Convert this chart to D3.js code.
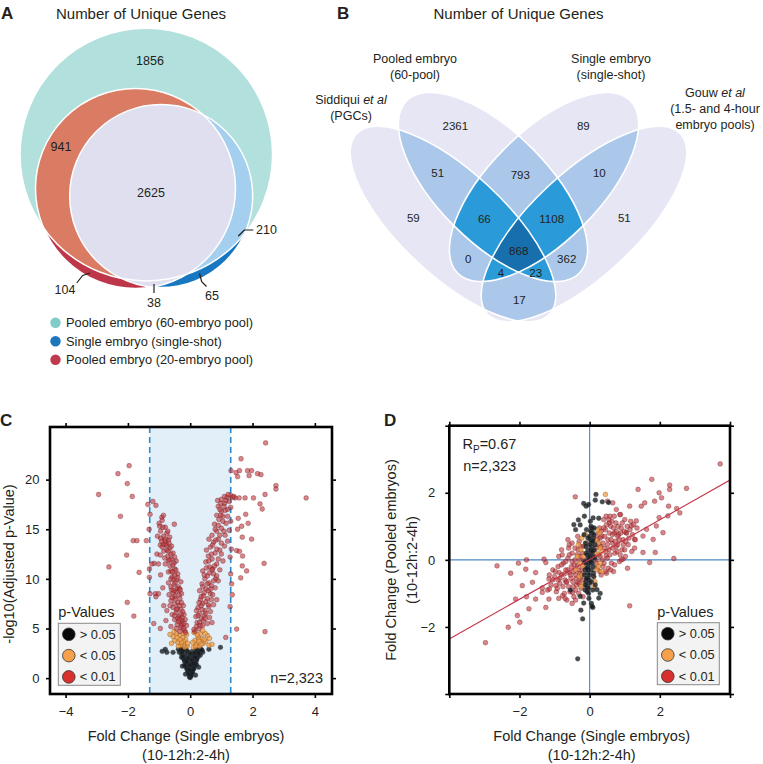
<!DOCTYPE html>
<meta charset="utf-8">
<style>
body{margin:0;background:#fff;}
svg text{font-family:"Liberation Sans",Arial,Helvetica,sans-serif;fill:#231f20;}
</style>
<body>
<svg width="763" height="764"></svg>
<script src="https://d3js.org/d3.v7.min.js"></script>
<script>
// ---- panel A : three-set Euler diagram ----
var aTitle = "Number of Unique Genes";
var aSets = ["Pooled embryo (60-embryo pool)", "Single embryo (single-shot)", "Pooled embryo (20-embryo pool)"];
var aCounts = [1856, 941, 2625, 210, 104, 38, 65];

// ---- panel B : four-set Venn ----
var bSets = [["Siddiqui ", "et al", "(PGCs)"], ["Pooled embryo", "", "(60-pool)"], ["Single embryo", "", "(single-shot)"], ["Gouw ", "et al", "(1.5- and 4-hour", "embryo pools)"]];
var bCounts = [59, 2361, 89, 51, 51, 793, 10, 66, 1108, 868, 0, 362, 4, 23, 17];

// ---- panel C : volcano (fold change, -log10 adj p) ----
var cThreshold = [-1.3, 1.3];
var cBlack = [[0,0.05],[0.02,0.2],[-0.03,0.35],[0.05,0.5],[-0.06,0.6],[0.08,0.8],[-0.1,0.9],[0.12,1.0],[-0.02,1.1],[0.04,0.7],
  [-0.14,1.3],[0.15,1.4],[-0.08,1.5],[0.1,1.6],[-0.18,1.7],[0.2,1.8],[0,1.9],[-0.22,2.0],[0.24,2.1],[-0.12,2.2],
  [0.14,2.3],[-0.27,2.4],[0.3,2.5],[-0.05,2.6],[0.07,2.7],[-0.3,2.8],[0.35,2.9],[-0.2,2.9],[0.22,2.7],[-0.35,2.6],
  [0.4,2.6],[-0.15,0.4],[0.17,0.3],[-0.25,1.2],[0.27,1.1],[0.09,2.0],[-0.09,1.8],[-0.9,2.7],[-0.8,2.9],[-0.75,2.6],
  [0.97,3.1],[0.6,2.9],[-0.55,2.6],[-0.04,1.4],[0.06,1.2],[-0.16,2.5],[0.18,2.6],[0.03,2.3],[-0.28,2.1],[0.32,2.3],
  [-0.02,0.1],[0.03,0.3],[-0.05,0.45],[0.07,0.6],[-0.08,0.75],[0.1,0.9],[-0.12,1.05],[0.13,1.2],[-0.15,1.45],[0.17,1.6],
  [-0.19,1.85],[0.21,1.95],[-0.23,2.2],[0.25,2.35],[-0.26,2.6],[0.28,2.75],[-0.3,2.95],[0.32,2.9],[0.0,1.3],[0.05,1.75],
  [-0.06,2.05],[0.12,2.5],[-0.1,2.75],[0.18,2.95],[-0.15,2.95],[0.0,2.45],[-0.18,1.25],[0.2,1.35],[-0.02,0.85],[0.09,1.45],
  [-0.38,2.9],[0.38,2.8],[-0.24,2.85],[0.26,2.55],[-0.12,1.65],[0.15,2.1]];
var cOrange = [[-0.1,3.2],[-0.2,3.4],[-0.3,3.3],[-0.4,3.6],[-0.15,3.9],[-0.25,4.1],[-0.35,4.3],[-0.5,3.8],[-0.45,4.5],[-0.12,4.4],
  [-0.55,4.2],[-0.6,3.5],[0.1,3.1],[0.2,3.4],[0.3,3.2],[0.42,3.5],[0.15,3.8],[0.25,4.2],[0.38,4.0],[0.5,3.7],
  [0.6,3.3],[0.33,4.5],[0.12,4.6],[0.55,4.3],[0.7,3.4],[-0.22,3.7],[0.28,3.9],
  [-0.08,3.5],[-0.18,3.1],[-0.28,3.6],[-0.38,3.2],[-0.33,3.9],[-0.42,4.1],[-0.2,4.5],[-0.52,4.7],[0.08,3.6],[0.18,3.2],
  [0.28,3.7],[0.35,3.4],[0.45,3.9],[0.22,4.4],[0.48,4.5],[0.4,4.8],[0.62,4.0],[-0.65,4.4]];
var cRed = [[-1.96,21.4],[-2.32,20.6],[-2.02,19.6],[-2.94,18.5],[-1.86,18.3],[-1.36,17.5],[-1.2,17.8],[-1.1,17.4],[-2.24,16.3],[-1.29,16.5],
  [-1.32,15.0],[-1.83,13.85],[-1.71,13.85],[-1.41,13.85],[-2.04,12.4],[-2.61,11.2],[-1.64,10.65],[-1.31,11.0],[-1.31,10.15],[-2.02,7.63],
  [-1.81,6.25],[-1.17,5.5],[-0.96,5.0],[-1.29,8.5],[-1.12,8.5],[-1.02,8.5],[-0.91,16.2],[-0.86,16.4],[-0.51,15.5],[-0.8,15.2],
  [-0.96,13.4],[-0.86,13.45],[-0.75,13.35],[-1.07,12.5],[-0.96,12.4],[-1.16,11.56],[-1.02,11.5],[-1.23,11.5],
  [-0.18,4.8],[-0.3,5.1],[-0.42,5.4],[-0.25,5.8],[-0.12,5.3],[-0.5,5.9],[-0.36,6.2],[-0.2,6.4],
  [-0.45,6.6],[-0.3,6.9],[-0.55,7.1],[-0.22,7.3],[-0.4,7.6],[-0.62,7.8],[-0.33,8.0],[-0.5,8.2],
  [-0.28,8.5],[-0.45,8.7],[-0.6,8.9],[-0.38,9.2],[-0.52,9.4],[-0.7,9.6],[-0.44,9.9],[-0.3,9.7],
  [-0.58,10.2],[-0.4,10.5],[-0.7,10.7],[-0.5,11.0],[-0.65,11.3],[-0.8,11.5],[-0.45,11.8],[-0.6,12.0],
  [-0.72,12.3],[-0.55,12.6],[-0.85,12.8],[-0.65,13.1],[-0.78,13.5],[-0.9,13.2],[-0.7,13.9],
  [-0.85,14.3],[-0.95,14.8],[-0.75,14.6],[-1.0,15.6],[-0.9,15.9],
  [-0.62,5.2],[-0.75,6.8],[-0.88,9.1],[-0.95,10.4],[-1.1,8.2],[-0.85,7.3],[-0.78,5.8],
  [-0.35,7.3],[-0.48,8.0],[-0.55,9.9],[-0.62,10.8],[-0.4,6.0],[-0.27,5.5],[-0.58,6.4],[-0.68,8.4],[-0.52,11.6],[-0.82,12.1],
  [-0.15,4.6],[-0.22,5.0],[-0.33,4.7],[-0.28,5.3],[-0.38,5.7],[-0.45,5.0],[-0.16,5.9],[-0.3,6.4],[-0.24,6.7],[-0.5,6.3],
  [-0.42,7.0],[-0.28,7.6],[-0.5,7.5],[-0.36,8.4],[-0.58,8.1],[-0.42,9.0],[-0.34,9.0],[-0.48,9.6],[-0.62,9.2],[-0.4,10.1],
  [-0.5,10.4],[-0.62,10.0],[-0.46,10.9],[-0.56,11.4],[-0.7,11.8],[-0.62,12.5],[-0.5,12.2],[-0.75,12.9],[-0.6,13.3],[-0.68,13.6],
  [-0.8,14.0],[-0.72,14.8],[-0.88,15.2],[-0.82,13.8],[-0.66,14.2],[-0.95,14.1],[-0.55,8.6],[-0.32,8.9],[-0.26,6.1],[-0.65,7.3],
  [-0.2,5.5],[-0.34,5.9],[-0.44,6.9],[-0.52,8.8],[-0.57,10.7],[-0.66,11.9],[-0.7,12.8],[-0.92,13.8],[-1.05,14.3],[-0.98,15.3],
  [0.15,4.7],[0.28,5.0],[0.4,5.3],[0.22,5.6],[0.55,5.5],[0.35,6.0],[0.18,6.2],[0.62,6.1],[0.7,5.6],
  [0.3,6.5],[0.48,6.8],[0.25,7.1],[0.6,7.2],[0.4,7.5],[0.75,7.4],[0.33,7.9],[0.55,8.0],[0.85,7.9],
  [0.42,8.3],[0.65,8.5],[0.3,8.8],[0.5,9.0],[0.8,9.1],[0.38,9.5],[0.6,9.6],[0.9,9.8],[0.47,10.0],
  [0.55,10.3],[0.75,10.5],[0.4,10.8],[0.95,10.9],[0.62,11.2],[0.85,11.5],[0.5,11.7],[0.7,12.0],[1.05,11.8],
  [0.58,12.3],[0.8,12.6],[0.95,12.9],[0.65,13.2],[1.1,13.3],[0.75,13.7],[0.9,14.0],[1.2,13.8],
  [0.7,14.4],[0.85,14.8],[1.0,15.1],[0.78,15.5],[1.15,15.6],[0.92,16.0],[1.25,14.9],
  [0.85,16.4],[1.0,16.8],[1.2,17.0],[0.9,17.3],[1.1,17.6],[1.3,17.2],[1.0,18.0],[1.18,18.2],[1.3,18.4],[0.88,17.9],[1.22,18.5],
  [0.45,6.3],[0.68,9.3],[0.52,12.9],[1.0,13.6],[0.35,8.2],[0.72,11.0],[1.12,14.4],[0.82,10.0],[0.6,14.0],[1.05,16.3],
  [0.12,4.9],[0.2,5.2],[0.3,5.6],[0.42,5.8],[0.25,6.3],[0.5,6.5],[0.38,6.9],[0.2,6.8],[0.65,6.7],[0.35,7.3],
  [0.5,7.7],[0.28,7.6],[0.68,7.9],[0.45,8.6],[0.58,8.8],[0.72,8.4],[0.4,9.2],[0.55,9.5],[0.75,9.8],[0.45,10.4],
  [0.62,10.6],[0.85,10.3],[0.52,11.1],[0.78,11.3],[0.6,11.8],[0.9,12.0],[0.68,12.5],[0.85,13.0],[0.72,13.4],[1.0,12.5],
  [0.82,13.9],[0.95,14.4],[0.8,15.0],[1.08,14.8],[0.9,15.4],[1.05,15.8],[0.98,16.4],[1.12,16.9],[0.95,17.0],[1.2,16.3],
  [1.08,17.3],[1.15,17.9],[0.98,17.6],[1.25,17.8],[1.1,18.3],[0.32,5.3],[0.48,6.0],[0.58,7.4],[0.66,9.0],[0.7,10.9],
  [2.42,23.7],[1.63,22.1],[1.31,20.9],[1.47,20.7],[1.58,20.9],[1.84,20.9],[1.97,20.9],[2.16,20.6],[2.27,20.5],[1.52,20.3],
  [1.89,20.4],[2.75,19.4],[2.75,19.05],[3.72,18.15],[2.4,18.5],[2.03,18.15],[1.76,18.15],[1.57,18.15],[1.44,18.15],[2.24,17.55],
  [2.31,17.04],[1.54,16.1],[1.78,16.5],[1.86,15.6],[1.65,15.3],[1.52,15.0],[1.67,14.2],[1.97,14.0],[1.49,12.85],[1.58,12.77],
  [1.68,12.3],[2.37,11.56],[1.67,11.3],[1.81,10.8],[1.62,10.1],[1.49,4.94],[2.4,4.68],[1.14,4.1],
  [1.3,15.8],[1.32,13.0],[1.28,12.2],[1.3,10.5],[1.33,9.5],[1.28,7.2],[1.35,8.4],[1.36,18.2],[1.4,18.3]];

// ---- panel D : fold change single vs pooled ----
var dFitEnds = [[-4, -2.36], [4, 2.38]];
var dStats = ["0.67", "n=2,323"];
var dRed = [[3.72,2.86],[1.77,2.4],[2.28,2.23],[2.28,2.1],[2.76,2.13],[1.38,2.1],[1.98,2.0],[2.05,1.85],[1.85,1.75],[1.57,1.7],
  [1.47,1.6],[2.25,1.6],[2.48,1.53],[1.14,1.6],[-0.41,1.88],[0.51,1.75],[0.66,1.7],[1.98,1.26],[2.23,1.31],[1.87,0.22],
  [1.71,-0.08],[2.4,0.04],[1.14,-1.37],[-2.64,-0.18],[-2.03,-0.1],[-2.25,-0.4],[-1.8,0.0],[-1.3,0.02],[-1.25,-0.08],[-2.97,-2.47],
  [-2.32,-2.01],[-1.99,-1.86],[-2.06,-1.66],[-1.8,-1.1],[-1.35,-0.84],[-1.15,-0.87],
  [0.76,1.5],[0.86,1.35],[1.33,1.16],[1.62,0.91],[1.9,1.01],[2.09,0.81],[1.52,0.71],[1.81,0.61],[2.57,1.4],[1.19,1.01],
  [0.47,1.3],[0.56,1.1],[1.04,0.81],[1.28,0.61],[0.76,0.4],[1.52,0.22],[0.95,0.02],[0.47,0.12],
  [-0.87,-0.38],[-1.16,-0.57],[-0.96,-0.77],[-0.67,-0.67],[-1.35,-0.97],[-1.16,-1.17],[-1.54,-1.17],[-1.73,-1.46],[-1.25,-1.42],[-0.77,-1.07],
  [-0.49,-0.97],[-0.58,-0.38],[-1.63,-0.67],[-1.92,-0.77],[-2.11,-1.17],[-1.82,-0.28],[-1.54,-0.38],[-0.34,-0.67],
  [-1.0,-0.5],[-0.9,-0.2],[-0.85,-0.7],[-0.8,-0.45],[-0.75,-0.1],[-0.7,-0.6],[-0.68,-0.3],[-0.62,0.05],[-0.6,-0.8],[-0.55,-0.45],
  [-0.52,-0.2],[-0.5,0.2],[-0.48,-0.65],[-0.45,-0.35],[-0.42,0.0],[-0.4,-0.9],[-0.38,-0.55],[-0.35,-0.15],[-0.33,0.3],[-0.3,-0.7],
  [-0.28,-0.4],[-0.25,0.1],[-0.22,-0.25],[-0.2,-0.6],[-0.18,0.4],[-0.15,-0.1],[-0.95,-0.95],[-1.05,-0.3],[-0.72,-1.0],[-0.58,0.45],
  [-0.88,0.1],[-0.65,-1.2],[-0.45,-1.1],[-0.3,0.55],[-0.8,0.3],[-1.1,-0.75],[-0.5,-1.3],[-0.62,0.6],
  [0.15,0.2],[0.2,-0.1],[0.25,0.45],[0.3,0.1],[0.35,0.7],[0.38,-0.2],[0.42,0.35],[0.45,0.9],[0.5,0.05],[0.52,0.6],
  [0.55,0.3],[0.6,1.0],[0.62,-0.1],[0.65,0.5],[0.7,0.8],[0.72,0.2],[0.75,1.1],[0.8,0.45],[0.82,0.75],[0.85,-0.05],
  [0.9,0.95],[0.92,0.3],[0.95,0.6],[1.0,1.2],[1.02,0.1],[1.05,0.8],[1.1,0.45],[1.15,0.9],[1.2,0.25],[1.25,1.05],
  [0.4,1.2],[0.58,1.3],[0.28,0.95],[0.68,-0.35],[0.48,-0.4],[1.3,0.6],[0.88,1.35],[0.22,0.75],[0.33,-0.45],[1.08,-0.25],
  [-1.05,-0.6],[-0.98,-0.35],[-0.92,-0.85],[-0.85,-0.55],[-0.8,-0.15],[-0.76,-0.8],[-0.72,-0.42],[-0.68,-0.05],[-0.65,-0.65],[-0.62,-0.3],
  [-0.58,0.15],[-0.56,-0.95],[-0.53,-0.55],[-0.5,-0.05],[-0.47,-0.8],[-0.44,-0.15],[-0.42,0.35],[-0.4,-0.45],[-0.37,-0.75],[-0.36,0.15],
  [-0.33,-0.3],[-0.31,-1.0],[-0.29,0.0],[-0.27,-0.55],[-0.26,0.4],[-0.24,-0.85],[-0.22,0.2],[-0.21,-0.4],[-0.19,-1.1],[-0.17,0.0],
  [-0.9,-0.6],[-1.15,-0.45],[-1.2,-0.9],[-0.78,0.15],[-0.7,-1.15],[-0.6,0.35],[-0.88,-1.15],[-0.5,0.5],[-0.4,-1.2],[-0.34,0.7],
  [0.17,0.0],[0.19,0.35],[0.21,-0.25],[0.23,0.6],[0.26,0.15],[0.29,-0.35],[0.31,0.4],[0.33,0.85],[0.36,0.0],[0.38,0.5],
  [0.41,-0.1],[0.43,0.7],[0.46,0.25],[0.48,1.05],[0.51,0.45],[0.53,-0.25],[0.56,0.8],[0.58,0.15],[0.61,0.6],[0.63,1.15],
  [0.66,0.35],[0.68,0.95],[0.71,-0.15],[0.73,0.55],[0.76,0.85],[0.78,0.25],[0.81,1.0],[0.84,0.6],[0.87,0.15],[0.89,0.8],
  [0.93,1.1],[0.96,0.45],[0.99,0.85],[1.03,0.55],[1.07,1.0],[1.12,0.65],[1.17,1.15],[1.22,0.75],[1.28,0.35],[1.35,0.95],
  [0.4,0.95],[0.55,1.2],[0.7,1.3],[0.3,0.65],[0.6,-0.3],[0.9,0.0],[1.0,0.3],[0.45,-0.35],[0.8,0.7],[0.65,0.75]];
var dOrange = [[-0.2,-0.2],[0.15,0.1],[-0.25,0.3],[0.2,-0.3],[-0.3,-0.5],[0.25,0.5],[-0.15,-0.7],[0.18,0.6],[-0.35,0.1],[0.3,-0.1],
  [0.1,-0.5],[-0.1,0.5],[0.05,0.9],[-0.05,-0.9],[0.35,0.25],[-0.4,-0.3],[0.45,1.95],[0.12,-0.8],[-0.22,0.65],[0.28,0.8],
  [-0.18,0.1],[0.2,0.2],[-0.28,-0.1],[0.25,-0.2],[-0.22,-0.45],[0.3,0.35],[-0.12,0.75],[0.15,-0.65],[-0.32,0.45],[0.22,0.9],
  [-0.25,-0.8],[0.35,-0.35]];
var dBlack = [[0,0],[0.03,0.2],[-0.04,-0.2],[0.06,0.4],[-0.06,-0.4],[0.02,0.6],[-0.02,-0.6],[0.08,0.8],[-0.08,-0.8],[0.1,0.1],
  [-0.1,-0.1],[0.05,-0.3],[-0.05,0.3],[0.12,-0.5],[-0.12,0.5],[0.04,1.0],[-0.03,-1.0],[0.09,-0.9],[-0.09,0.9],[0.13,0.3],
  [-0.13,-0.3],[0.0,0.7],[0.0,-0.7],[0.07,-0.1],[-0.07,0.15],[0.11,0.65],[-0.11,-0.65],
  [-0.34,-2.95],[-0.2,-1.76],[0.09,-1.42],[-0.1,1.6],[-0.03,1.65],[0.18,1.95],[-0.15,1.3],[0.1,1.25],[-0.25,-1.5],
  [0.05,-1.3],[-0.4,0.9],[0.3,-1.0],[-0.55,-0.9],[-0.45,1.05],[-0.17,1.68],[0.16,1.78],[0.36,1.73],[0.54,1.71],[-0.32,1.19],
  [-0.27,1.04],[0.26,1.24],[-0.27,-1.09],[-0.17,-1.29],[0.21,-0.89],[0.26,-1.14],[0.07,-1.39],
  [0.01,0.1],[-0.01,-0.1],[0.04,0.3],[-0.04,-0.3],[0.06,0.55],[-0.06,-0.55],[0.03,0.85],[-0.03,-0.85],[0.08,0.25],[-0.08,-0.25],
  [0.1,-0.2],[-0.1,0.2],[0.12,0.75],[-0.12,-0.75],[0.05,-0.65],[-0.05,0.65],[0.14,0.05],[-0.14,-0.05],[0.02,1.15],[-0.02,-1.15],
  [0.07,0.95],[-0.07,-0.95],[0.11,-0.4],[-0.11,0.4],[0.15,0.45],[-0.15,-0.45],[0.0,0.45],[0.0,-0.45],[0.09,0.55],[-0.09,-0.55],
  [0.16,-0.75],[-0.16,0.75],[0.04,-0.05],[-0.04,0.05],[0.13,0.95],[-0.13,-0.9]];

var pLegend = ["> 0.05", "< 0.05", "< 0.01"];
var pColors = ["#0a0a0a", "#f5a04c", "#d8302e"];

var svg = d3.select("svg");
var defs = svg.append("defs");

function panelLetter(t, x, y) {
  svg.append("text").attr("x", x).attr("y", y).attr("font-size", 17).attr("font-weight", "bold").text(t);
}

// ================= A =================
panelLetter("A", 1, 19);
svg.append("text").attr("x", 141).attr("y", 19).attr("text-anchor", "middle").attr("font-size", 15).text(aTitle);

var cT = {cx: 146.3, cy: 154.6, r: 126.3},
    cR = {cx: 135.5, cy: 188.5, r: 100},
    cB = {cx: 161.2, cy: 196, r: 91.5};
function circ(sel, c) { return sel.append("circle").attr("cx", c.cx).attr("cy", c.cy).attr("r", c.r); }
circ(defs.append("clipPath").attr("id", "clipT"), cT);
circ(defs.append("clipPath").attr("id", "clipR"), cR);

var gA = svg.append("g");
circ(gA, cT).attr("fill", "#b2e0dc");
circ(gA, cR).attr("fill", "#be3649");
circ(gA.append("g").attr("clip-path", "url(#clipT)"), cR).attr("fill", "#d97c63");
circ(gA, cB).attr("fill", "#1777c0");
circ(gA.append("g").attr("clip-path", "url(#clipT)"), cB).attr("fill", "#a5cfee");
circ(gA.append("g").attr("clip-path", "url(#clipR)"), cB).attr("fill", "#dfdff0");
[cT, cR, cB].forEach(function(c) { circ(gA, c).attr("fill", "none").attr("stroke", "#fff").attr("stroke-width", 1.5); });

var aLabelPos = [[150, 61], [61, 147], [151, 193], [256, 230], [65, 290], [154, 303], [212, 296]];
aCounts.forEach(function(v, i) {
  gA.append("text").attr("x", aLabelPos[i][0]).attr("y", aLabelPos[i][1]).attr("dy", "0.35em")
    .attr("text-anchor", i == 3 ? "start" : "middle").attr("font-size", 12.5).text(v);
});
var aLeaders = [[[238.3, 236], [244.3, 230], [253.3, 230]], [[76.7, 283], [82.7, 275.5], [90, 273]],
                [[154, 284], [154, 293]], [[199.5, 273.5], [201.7, 281.7], [206.5, 286.5]]];
aLeaders.forEach(function(p) {
  gA.append("path").attr("d", d3.line()(p)).attr("fill", "none").attr("stroke", "#231f20").attr("stroke-width", 1.2);
});
var aLegendCol = ["#7fcdc6", "#1b76bc", "#bf3a4c"];
aSets.forEach(function(s, i) {
  var yy = 322.7 + i * 18.5;
  gA.append("circle").attr("cx", 55.5).attr("cy", yy).attr("r", 5.2).attr("fill", aLegendCol[i]);
  gA.append("text").attr("x", 66).attr("y", yy).attr("dy", "0.35em").attr("font-size", 12.8).text(s);
});

// ================= B =================
panelLetter("B", 337, 19);
svg.append("text").attr("x", 518.5).attr("y", 19).attr("text-anchor", "middle").attr("font-size", 15).text(aTitle);

var ellB = [{cx: 453, cy: 224, rx: 132, ry: 52, rot: 43}, {cx: 493, cy: 187, rx: 122, ry: 55, rot: 45},
            {cx: 544, cy: 187, rx: 122, ry: 55, rot: -45}, {cx: 584, cy: 224, rx: 132, ry: 52, rot: -43}];
function ell(sel, e) {
  return sel.append("ellipse").attr("cx", e.cx).attr("cy", e.cy).attr("rx", e.rx).attr("ry", e.ry)
    .attr("transform", "rotate(" + e.rot + "," + e.cx + "," + e.cy + ")");
}
ellB.forEach(function(e, i) { ell(defs.append("clipPath").attr("id", "clipB" + i), e); });
var levelCol = ["#e6e6f4", "#abc7ea", "#2a9bd8", "#176fae"];
var gB = svg.append("g");
function nbits(m) { return d3.sum([0, 1, 2, 3], function(k) { return (m >> k) & 1; }); }
var masks = d3.range(1, 16).sort(function(a, b) { return nbits(a) - nbits(b); });
masks.forEach(function(m) {
  var idx = [0, 1, 2, 3].filter(function(k) { return (m >> k) & 1; });
  var host = gB;
  idx.slice(0, -1).forEach(function(k) { host = host.append("g").attr("clip-path", "url(#clipB" + k + ")"); });
  ell(host, ellB[idx[idx.length - 1]]).attr("fill", levelCol[idx.length - 1]);
});
ellB.forEach(function(e) { ell(gB, e).attr("fill", "none").attr("stroke", "#fff").attr("stroke-width", 1.6); });

var bLabelPos = [[413.3,218.3],[455.3,125.7],[583.3,125.7],[624.3,218.3],[437.7,172.7],[520.3,175],[599.3,172.7],
  [484.3,219],[551.7,219],[518.7,250.7],[468.3,259.3],[566.7,259.3],[501,272.7],[535.7,272.7],[519.3,300]];
bCounts.forEach(function(v, i) {
  gB.append("text").attr("x", bLabelPos[i][0]).attr("y", bLabelPos[i][1]).attr("dy", "0.35em")
    .attr("text-anchor", "middle").attr("font-size", 11.5).text(v);
});
var bSetPos = [[351, 100], [415, 58.5], [611, 58.5], [715, 93]];
bSets.forEach(function(s, i) {
  var t = gB.append("text").attr("x", bSetPos[i][0]).attr("y", bSetPos[i][1]).attr("dy", "0.35em")
    .attr("text-anchor", "middle").attr("font-size", 12.5);
  t.append("tspan").text(s[0]);
  if (s[1]) t.append("tspan").attr("font-style", "italic").text(s[1]);
  s.slice(2).forEach(function(line, j) {
    gB.append("text").attr("x", bSetPos[i][0]).attr("y", bSetPos[i][1] + 15.8 * (j + 1)).attr("dy", "0.35em")
      .attr("text-anchor", "middle").attr("font-size", 12.5).text(line);
  });
});

// ================= shared helpers =================
var fontAxis = 13;
function frame(g, x, y, ticksX, ticksY, fmtX, fmtY, padY) {
  var x0 = x.range()[0], x1 = x.range()[1], yb = y.range()[0], yt = y.range()[1];
  function style(a) {
    a.select(".domain").remove();
    a.selectAll("line").attr("stroke", "#000").attr("stroke-width", 1.6);
    a.selectAll("text").attr("font-size", fontAxis).attr("font-family", "Liberation Sans, Arial, sans-serif").attr("fill", "#231f20");
  }
  g.append("g").attr("transform", "translate(0," + yb + ")")
    .call(d3.axisBottom(x).tickValues(ticksX).tickSize(4).tickPadding(9).tickFormat(fmtX)).call(style);
  g.append("g").attr("transform", "translate(0," + yt + ")")
    .call(d3.axisTop(x).tickValues(ticksX).tickSize(4).tickFormat("")).call(style);
  g.append("g").attr("transform", "translate(" + x0 + ",0)")
    .call(d3.axisLeft(y).tickValues(ticksY).tickSize(4).tickPadding(padY).tickFormat(fmtY)).call(style);
  g.append("g").attr("transform", "translate(" + x1 + ",0)")
    .call(d3.axisRight(y).tickValues(ticksY).tickSize(4).tickFormat("")).call(style);
  g.append("rect").attr("x", x0).attr("y", yt).attr("width", x1 - x0).attr("height", yb - yt)
    .attr("fill", "none").attr("stroke", "#000").attr("stroke-width", 2.6);
}
function dots(g, data, x, y, cls) {
  var st = {red: ["#c2333b", 0.6, "#5e1818"], orange: ["#f29b40", 0.75, "#7a4715"], black: ["#15191e", 0.78, "#3d434a"]}[cls];
  g.selectAll(null).data(data).enter().append("circle")
    .attr("cx", function(d) { return x(d[0]); }).attr("cy", function(d) { return y(d[1]); })
    .attr("r", 2.4).attr("fill", st[0]).attr("fill-opacity", st[1])
    .attr("stroke", st[2]).attr("stroke-opacity", 0.55).attr("stroke-width", 0.6);
}
function legend(g, x, y) {
  g.append("text").attr("x", x).attr("y", y - 6).attr("font-size", 14.5).text("p-Values");
  g.append("rect").attr("x", x).attr("y", y).attr("width", 62).attr("height", 62)
    .attr("fill", "#f3f3f3").attr("stroke", "#8a8a8a").attr("stroke-width", 1);
  pLegend.forEach(function(t, i) {
    g.append("circle").attr("cx", x + 10.5).attr("cy", y + 11 + i * 21.3).attr("r", 6.3)
      .attr("fill", pColors[i]).attr("stroke", "#333").attr("stroke-width", 0.8);
    g.append("text").attr("x", x + 21.5).attr("y", y + 11 + i * 21.3).attr("dy", "0.35em").attr("font-size", 12.8).text(t);
  });
}
var fmt = d3.format("d");

// ================= C =================
panelLetter("C", 0, 426);
var gC = svg.append("g");
var xC = d3.scaleLinear().domain([-4.5, 4.55]).range([50, 332]);
var yC = d3.scaleLinear().domain([-1.6, 25.3]).range([694, 427]);
gC.append("rect").attr("x", xC(cThreshold[0])).attr("y", 427).attr("width", xC(cThreshold[1]) - xC(cThreshold[0]))
  .attr("height", 267).attr("fill", "#e2eff9");
cThreshold.forEach(function(t) {
  gC.append("line").attr("x1", xC(t)).attr("x2", xC(t)).attr("y1", 427).attr("y2", 694)
    .attr("stroke", "#2c8bd0").attr("stroke-width", 1.6).attr("stroke-dasharray", "6,4");
});
dots(gC, cBlack, xC, yC, "black");
dots(gC, cOrange, xC, yC, "orange");
dots(gC, cRed, xC, yC, "red");
frame(gC, xC, yC, [-4, -2, 0, 2, 4], [0, 5, 10, 15, 20], fmt, fmt, 6.5);
legend(gC, 58.3, 623.3);
gC.append("text").attr("x", 323).attr("y", 678).attr("dy", "0.35em").attr("text-anchor", "end").attr("font-size", 14.5).text(dStats[1]);
gC.append("text").attr("x", 186).attr("y", 736).attr("dy", "0.35em").attr("text-anchor", "middle").attr("font-size", 14.5).text("Fold Change (Single embryos)");
gC.append("text").attr("x", 186).attr("y", 755).attr("dy", "0.35em").attr("text-anchor", "middle").attr("font-size", 14.5).text("(10-12h:2-4h)");
gC.append("text").attr("transform", "translate(9,564) rotate(-90)").attr("dy", "0.35em").attr("text-anchor", "middle")
  .attr("font-size", 14.5).text("-log10(Adjusted p-Value)");

// ================= D =================
panelLetter("D", 384, 426);
var gD = svg.append("g");
var xD = d3.scaleLinear().domain([-4, 4]).range([449.3, 730]);
var yD = d3.scaleLinear().domain([-4, 4]).range([694, 425.7]);
defs.append("clipPath").attr("id", "clipD").append("rect").attr("x", 449.3).attr("y", 425.7).attr("width", 280.7).attr("height", 268.3);
var plotD = gD.append("g").attr("clip-path", "url(#clipD)");
plotD.append("line").attr("x1", xD(0)).attr("x2", xD(0)).attr("y1", yD(-4)).attr("y2", yD(4)).attr("stroke", "#4a86c4").attr("stroke-width", 1.1);
plotD.append("line").attr("x1", xD(-4)).attr("x2", xD(4)).attr("y1", yD(0)).attr("y2", yD(0)).attr("stroke", "#4a86c4").attr("stroke-width", 1.1);
dots(plotD, dRed, xD, yD, "red");
dots(plotD, dOrange, xD, yD, "orange");
dots(plotD, dBlack, xD, yD, "black");
plotD.append("path").attr("d", d3.line().x(function(d) { return xD(d[0]); }).y(function(d) { return yD(d[1]); })(dFitEnds))
  .attr("stroke", "#c4374a").attr("stroke-width", 1.1).attr("fill", "none");
var fmtD = function(d) { return Math.abs(d) == 4 ? "" : fmt(d); };
frame(gD, xD, yD, [-4, -2, 0, 2, 4], [-4, -2, 0, 2, 4], fmtD, fmtD, 10);
legend(gD, 657.3, 622.7);
var rp = gD.append("text").attr("x", 462.5).attr("y", 444).attr("dy", "0.35em").attr("font-size", 14.5);
rp.append("tspan").text("R");
rp.append("tspan").attr("font-size", 10).attr("dy", 4).text("P");
rp.append("tspan").attr("dy", -4).text("=" + dStats[0]);
gD.append("text").attr("x", 463.3).attr("y", 465.7).attr("dy", "0.35em").attr("font-size", 14.5).text(dStats[1]);
gD.append("text").attr("x", 591.7).attr("y", 736).attr("dy", "0.35em").attr("text-anchor", "middle").attr("font-size", 14.5).text("Fold Change (Single embryos)");
gD.append("text").attr("x", 591.7).attr("y", 755).attr("dy", "0.35em").attr("text-anchor", "middle").attr("font-size", 14.5).text("(10-12h:2-4h)");
gD.append("text").attr("transform", "translate(391,560) rotate(-90)").attr("dy", "0.35em").attr("text-anchor", "middle")
  .attr("font-size", 14.5).text("Fold Change (Pooled embryos)");
gD.append("text").attr("transform", "translate(411.5,560) rotate(-90)").attr("dy", "0.35em").attr("text-anchor", "middle")
  .attr("font-size", 14.5).text("(10-12h:2-4h)");
</script>
</body>
